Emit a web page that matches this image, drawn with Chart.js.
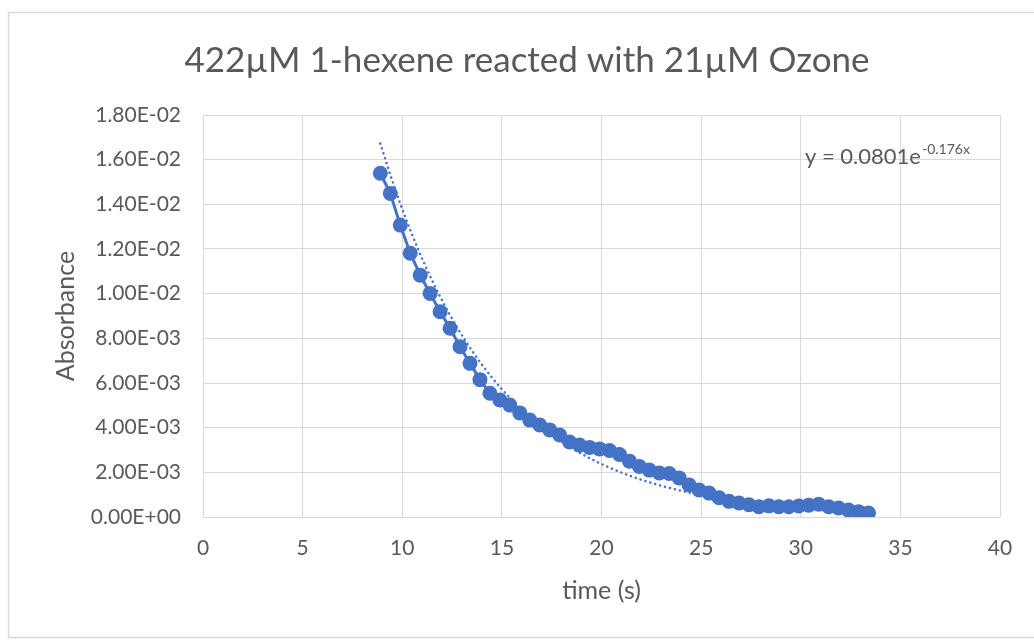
<!DOCTYPE html>
<html>
<head>
<meta charset="utf-8">
<script src="https://cdn.jsdelivr.net/npm/chart.js@4/dist/chart.umd.min.js"></script>
<style>
  html, body { margin: 0; padding: 0; background: #fff; }
  #wrap { width: 1034px; height: 642px; position: relative; }
</style>
</head>
<body>
<div id="wrap"><canvas id="c"></canvas></div>
<script>
// Absorbance decay
var times = [8.9, 9.4, 9.9, 10.4, 10.9, 11.4, 11.9, 12.4, 12.9, 13.4,
             13.9, 14.4, 14.9, 15.4, 15.9, 16.4, 16.9, 17.4, 17.9, 18.4,
             18.9, 19.4, 19.9, 20.4, 20.9, 21.4, 21.9, 22.4, 22.9, 23.4,
             23.9, 24.4, 24.9, 25.4, 25.9, 26.4, 26.9, 27.4, 27.9, 28.4,
             28.9, 29.4, 29.9, 30.4, 30.9, 31.4, 31.9, 32.4, 32.9, 33.4];
var absorbance = [0.01539, 0.01449, 0.01307, 0.01181, 0.01083, 0.01001, 0.00919, 0.00845, 0.00762, 0.00688,
                  0.00615, 0.00554, 0.00524, 0.00501, 0.00466, 0.00434, 0.00412, 0.00390, 0.00367, 0.00336,
                  0.00322, 0.00311, 0.00305, 0.00298, 0.00280, 0.00250, 0.00226, 0.00210, 0.00197, 0.00195,
                  0.00175, 0.00143, 0.00121, 0.00107, 0.00086, 0.00070, 0.00063, 0.00055, 0.00046, 0.00050,
                  0.00046, 0.00046, 0.00049, 0.00053, 0.00057, 0.00046, 0.00040, 0.00031, 0.00024, 0.00018];

// exponential trendline as printed on the chart
var trendA = 0.0801;
var trendK = -0.176;
var trendLabel = ['y = 0.0801e', '-0.176x'];
var chartTitle = '422\u00B5M 1-hexene reacted with 21\u00B5M Ozone';

var BLUE = '#4472C4';
var TEXT = '#595959';
var GRID = '#D9D9D9';
var FONT = 'Lato, "Open Sans", sans-serif';

var points = times.map(function (t, i) { return { x: t, y: absorbance[i] }; });
var trend = times.map(function (t) { return { x: t, y: trendA * Math.exp(trendK * t) }; });

function sci(v) {
    if (v === 0) return '0.00E+00';
    var s = v.toExponential(2).split('e');
    var e = parseInt(s[1], 10);
    var sign = e < 0 ? '-' : '+';
    e = Math.abs(e);
    return s[0] + 'E' + sign + (e < 10 ? '0' + e : e);
}

// white page, light frame and the title centred on the frame
var frame = {
    id: 'frame',
    beforeDraw: function (chart) {
        var ctx = chart.ctx;
        ctx.save();
        ctx.fillStyle = '#fff';
        ctx.fillRect(0, 0, chart.width, chart.height);
        ctx.strokeStyle = GRID;
        ctx.lineWidth = 1.5;
        ctx.strokeRect(8.5, 12.5, 1040, 625);
        ctx.fillStyle = TEXT;
        ctx.font = '35px ' + FONT;
        ctx.textAlign = 'center';
        ctx.textBaseline = 'middle';
        ctx.fillText(chartTitle, 527, 61);
        ctx.restore();
    }
};

// trendline equation with superscript exponent
var equation = {
    id: 'equation',
    afterDraw: function (chart) {
        var ctx = chart.ctx;
        ctx.save();
        ctx.fillStyle = TEXT;
        ctx.textBaseline = 'alphabetic';
        ctx.font = '22px ' + FONT;
        var x = 805, y = 164;
        ctx.fillText(trendLabel[0], x, y);
        var w = ctx.measureText(trendLabel[0]).width;
        ctx.font = '14px ' + FONT;
        ctx.fillText(trendLabel[1], x + w + 1, y - 10);
        ctx.restore();
    }
};

new Chart(document.getElementById('c'), {
    type: 'scatter',
    data: {
        datasets: [
            {
                label: 'trend',
                data: trend,
                showLine: true,
                borderColor: BLUE,
                borderWidth: 2.5,
                borderDash: [0.1, 5],
                borderCapStyle: 'round',
                pointRadius: 0,
                fill: false,
                order: 0
            },
            {
                label: 'Absorbance',
                data: points,
                showLine: true,
                borderColor: BLUE,
                backgroundColor: BLUE,
                borderWidth: 3,
                pointRadius: 7.5,
                pointBorderWidth: 0,
                pointHoverRadius: 7.5,
                fill: false,
                order: 1
            }
        ]
    },
    options: {
        responsive: true,
        maintainAspectRatio: false,
        animation: false,
        events: [],
        layout: { padding: { left: 0, right: 34, top: 115, bottom: 0 } },
        plugins: {
            legend: { display: false },
            tooltip: { enabled: false },
            title: { display: false }
        },
        scales: {
            x: {
                type: 'linear',
                min: 0,
                max: 40,
                ticks: {
                    stepSize: 5,
                    color: TEXT,
                    padding: 19,
                    font: { family: FONT, size: 21 }
                },
                grid: { color: GRID, lineWidth: 1, drawTicks: false },
                border: { display: false },
                title: {
                    display: true,
                    text: 'time (s)',
                    color: TEXT,
                    font: { family: FONT, size: 25 },
                    padding: { top: 0, bottom: 36 }
                },
                afterFit: function (s) { s.height = 125; }
            },
            y: {
                type: 'linear',
                min: 0,
                max: 0.018,
                ticks: {
                    stepSize: 0.002,
                    color: TEXT,
                    padding: 22,
                    font: { family: FONT, size: 21 },
                    callback: function (v) { return sci(v); }
                },
                grid: { color: GRID, lineWidth: 1, drawTicks: false },
                border: { display: false },
                title: {
                    display: true,
                    text: 'Absorbance',
                    color: TEXT,
                    font: { family: FONT, size: 25 },
                    padding: { top: 51, bottom: 0 }
                },
                afterFit: function (s) { s.width = 203; }
            }
        }
    },
    plugins: [frame, equation]
});
</script>
</body>
</html>
